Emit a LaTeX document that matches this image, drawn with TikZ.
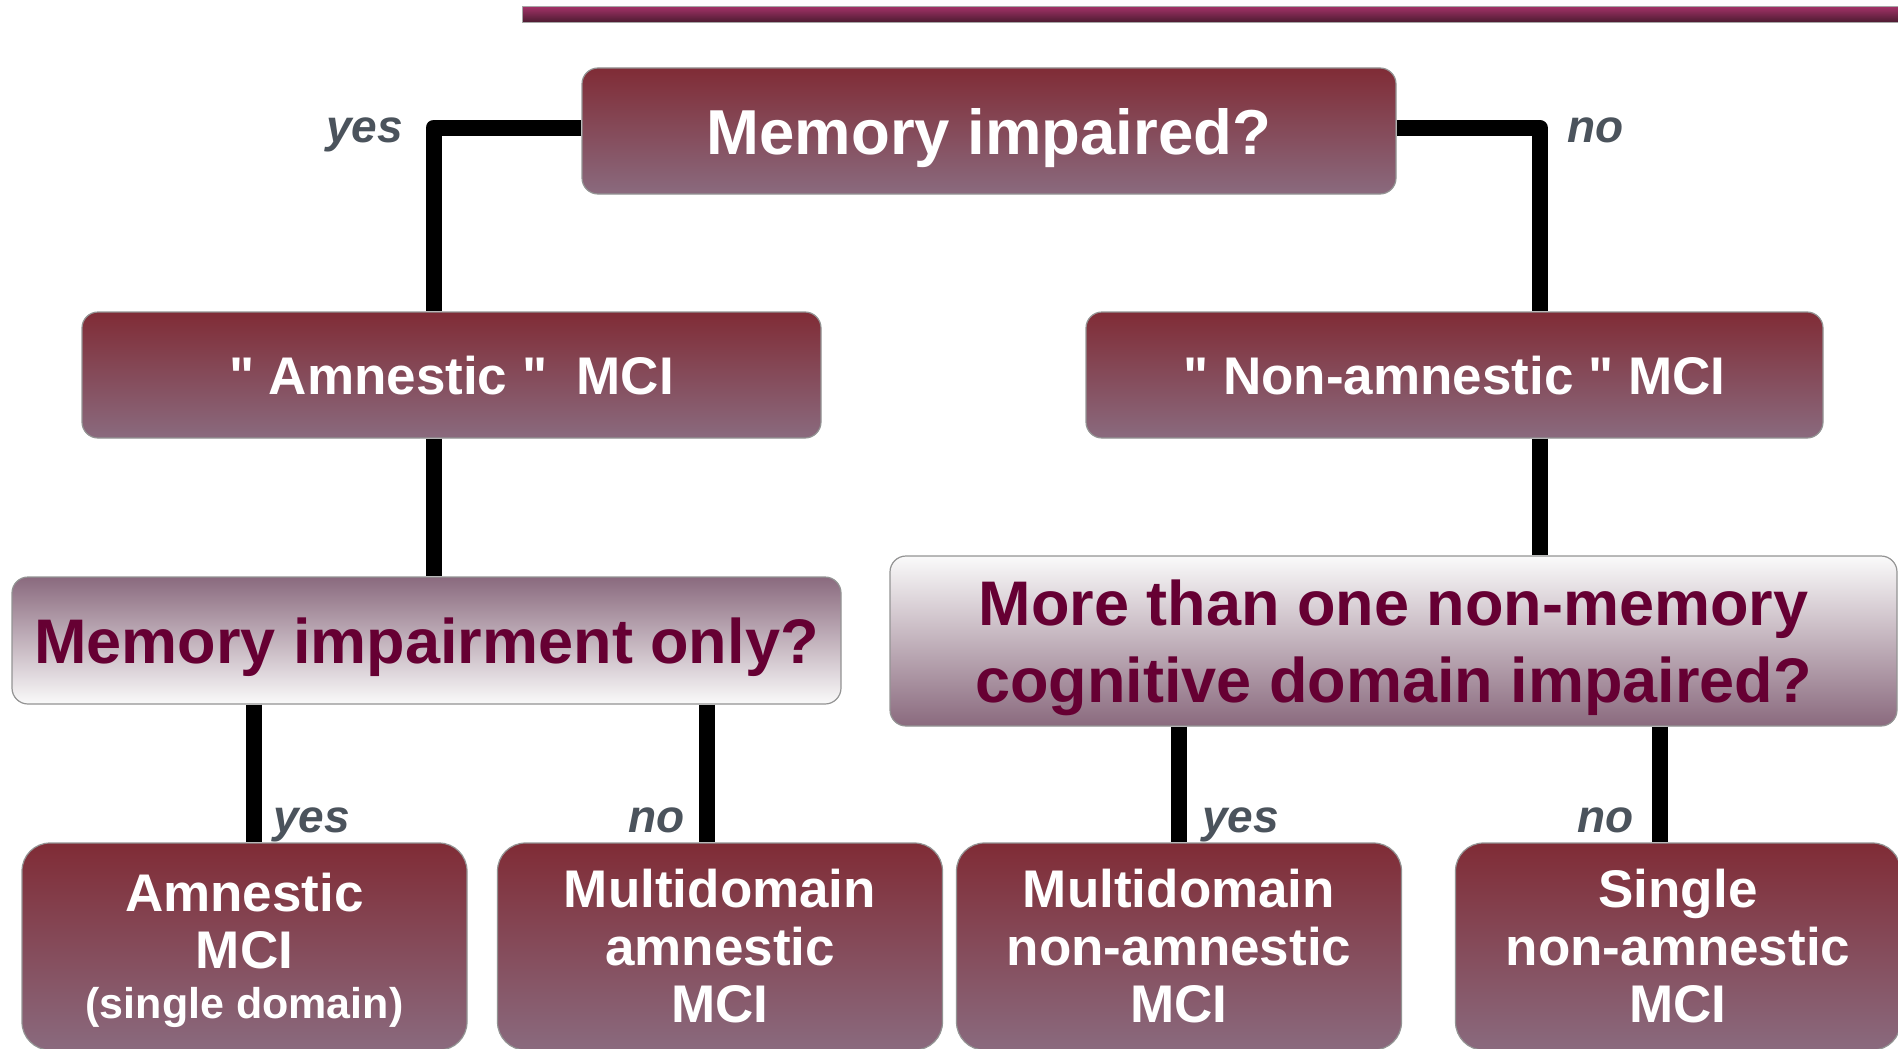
\documentclass[tikz,border=0pt]{standalone}
\usepackage{fontspec}
\setmainfont{Liberation Sans}
\definecolor{boxtop}{RGB}{128,44,54}
\definecolor{boxbot}{RGB}{138,106,126}
\definecolor{qtext}{RGB}{102,0,51}
\definecolor{lblcol}{RGB}{75,83,92}
\definecolor{bartop}{RGB}{160,50,102}
\definecolor{barbot}{RGB}{72,26,46}
\definecolor{paleq}{RGB}{250,250,250}
\begin{document}
\begin{tikzpicture}[x=1pt,y=-1pt,
  basebox/.style={draw=gray!85, line width=1.2pt, inner sep=0pt},
  darkbox/.style={basebox, rounded corners=16pt, top color=boxtop, bottom color=boxbot, text=white},
  leafbox/.style={basebox, align=center, rounded corners=28pt, top color=boxtop, bottom color=boxbot, text=white,
    minimum width=445pt, minimum height=207pt, font=\fontsize{53}{57.5}\selectfont\bfseries},
  qdown/.style={basebox, rounded corners=16pt, top color=boxbot, bottom color=paleq, text=qtext},
  qup/.style={basebox, align=center, rounded corners=16pt, top color=paleq, bottom color=boxbot, text=qtext},
  lbl/.style={font=\fontsize{46}{50}\selectfont\bfseries\itshape, text=lblcol, inner sep=0pt, anchor=base west},
  conn/.style={line width=16pt, line join=round, draw=black},
  barstyle/.style={draw=gray!70, line width=1pt, top color=bartop, bottom color=barbot, inner sep=0pt,
    minimum width=1383pt, minimum height=16pt}
]
\useasboundingbox (0,0) rectangle (1898,1049);

% top decorative bar
\node[barstyle] (topbar) at (1213.5,15) {};

% boxes
\node[darkbox, minimum width=814pt, minimum height=126pt,
      font=\fontsize{63.5}{76}\selectfont\bfseries, text height=46pt, text depth=0pt]
      (mem) at (989,131) {Memory impaired?};
\node[darkbox, minimum width=739pt, minimum height=126pt,
      font=\fontsize{53}{60}\selectfont\bfseries, text height=38pt, text depth=0pt]
      (amn) at (451.5,375) {\textquotedbl\ Amnestic\ \textquotedbl\ \ MCI};
\node[darkbox, minimum width=737pt, minimum height=126pt,
      font=\fontsize{53}{60}\selectfont\bfseries, text height=38pt, text depth=0pt]
      (nam) at (1454.5,375) {\textquotedbl\ Non-amnestic\ \textquotedbl\ MCI};
\node[qdown, minimum width=829pt, minimum height=127pt,
      font=\fontsize{63}{76}\selectfont\bfseries, text height=46pt, text depth=0pt]
      (mio) at (426.5,640.5) {Memory impairment only?};
\node[qup, minimum width=1007pt, minimum height=170pt,
      font=\fontsize{63}{77}\selectfont\bfseries]
      (more) at (1393.5,641) {\rule{0pt}{60pt}More than one non-memory\\cognitive domain impaired?};

\node[leafbox] (b1) at (244.5,946.5) {\rule{0pt}{46pt}Amnestic\\MCI\\[-8pt]{\fontsize{43}{48}\selectfont (single domain)}};
\node[leafbox] (b2) at (720,946.5) {Multidomain\\amnestic\\MCI};
\node[leafbox] (b3) at (1179,946.5) {Multidomain\\non-amnestic\\MCI};
\node[leafbox] (b4) at (1678,946.5) {Single\\non-amnestic\\MCI};

% junction coordinates
\coordinate (jL) at (433.5,127.5);
\coordinate (jR) at (1539.5,127.5);
\coordinate (x1) at (254,760);
\coordinate (x2) at (707,760);
\coordinate (x3) at (1179,780);
\coordinate (x4) at (1660,780);

% connectors
\draw[conn] (mem.west |- jL) -- (jL) -- (jL |- amn.north);
\draw[conn] (mem.east |- jR) -- (jR) -- (jR |- nam.north);
\draw[conn] (amn.south -| jL) -- (jL |- mio.north);
\draw[conn] (nam.south -| jR) -- (jR |- more.north);
\draw[conn] (mio.south -| x1) -- (b1.north -| x1);
\draw[conn] (mio.south -| x2) -- (b2.north -| x2);
\draw[conn] (more.south -| x3) -- (b3.north -| x3);
\draw[conn] (more.south -| x4) -- (b4.north -| x4);

% labels
\node[lbl] (ly1) at (326,142) {yes};
\node[lbl] (ln1) at (1567,142) {no};
\node[lbl] (ly2) at (273,832) {yes};
\node[lbl] (ln2) at (628,832) {no};
\node[lbl] (ly3) at (1202,832) {yes};
\node[lbl] (ln3) at (1577,832) {no};
\end{tikzpicture}
\end{document}
